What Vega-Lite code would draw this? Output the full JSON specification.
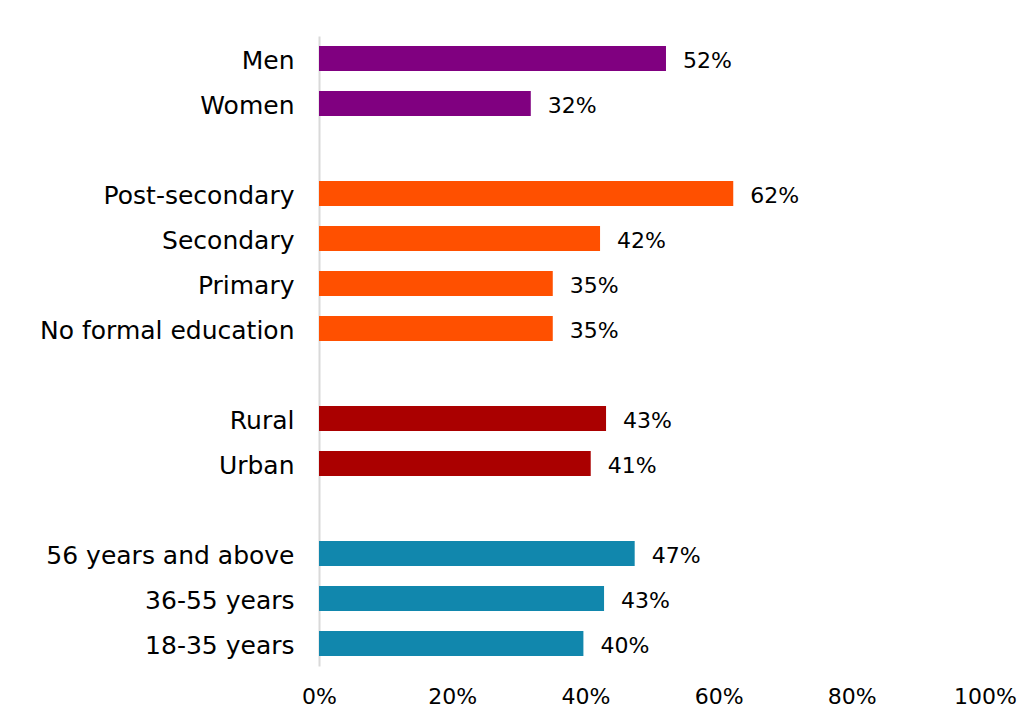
{
  "$schema": "https://vega.github.io/schema/vega-lite/v6.json",
  "width": 666,
  "height": 630,
  "autosize": {"type": "none"},
  "padding": {"left": 319, "top": 36, "right": 51, "bottom": 60},
  "background": "white",
  "config": {"view": {"stroke": null}, "font": "DejaVu Sans"},
  "data": {
    "values": [
      {"category": "Men", "group": "Gender", "value": 0.521},
      {"category": "Women", "group": "Gender", "value": 0.318},
      {"category": "Post-secondary", "group": "Education", "value": 0.622},
      {"category": "Secondary", "group": "Education", "value": 0.422},
      {"category": "Primary", "group": "Education", "value": 0.351},
      {"category": "No formal education", "group": "Education", "value": 0.351},
      {"category": "Rural", "group": "Location", "value": 0.431},
      {"category": "Urban", "group": "Location", "value": 0.408},
      {"category": "56 years and above", "group": "Age", "value": 0.474},
      {"category": "36-55 years", "group": "Age", "value": 0.428},
      {"category": "18-35 years", "group": "Age", "value": 0.397}
    ]
  },
  "encoding": {
    "y": {
      "field": "category",
      "type": "nominal",
      "scale": {
        "domain": ["Men", "Women", " ", "Post-secondary", "Secondary", "Primary", "No formal education", "  ", "Rural", "Urban", "   ", "56 years and above", "36-55 years", "18-35 years"],
        "paddingInner": 0.44,
        "paddingOuter": 0.22
      },
      "axis": {
        "title": null,
        "ticks": false,
        "labelPadding": 25,
        "labelOffset": 2,
        "labelFontSize": 25,
        "labelLimit": 0,
        "labelColor": "#000000",
        "labelFont": "DejaVu Sans",
        "domainColor": "#D9D9D9",
        "domainWidth": 2
      }
    },
    "x": {
      "field": "value",
      "type": "quantitative",
      "scale": {"domain": [0, 1]},
      "axis": {
        "title": null,
        "format": ".0%",
        "values": [0, 0.2, 0.4, 0.6, 0.8, 1],
        "grid": false,
        "domain": false,
        "ticks": false,
        "labelFlush": false,
        "labelPadding": 20,
        "labelFontSize": 22,
        "labelColor": "#000000",
        "labelFont": "DejaVu Sans"
      }
    }
  },
  "layer": [
    {
      "mark": {"type": "bar"},
      "encoding": {
        "color": {
          "field": "group",
          "type": "nominal",
          "scale": {"domain": ["Gender", "Education", "Location", "Age"], "range": ["#800080", "#FF5000", "#AA0000", "#1187AD"]},
          "legend": null
        }
      }
    },
    {
      "mark": {"type": "text", "align": "left", "baseline": "middle", "dx": 17, "dy": 2, "fontSize": 22, "color": "#000000", "font": "DejaVu Sans"},
      "encoding": {
        "text": {"field": "value", "type": "quantitative", "format": ".0%"}
      }
    }
  ]
}
